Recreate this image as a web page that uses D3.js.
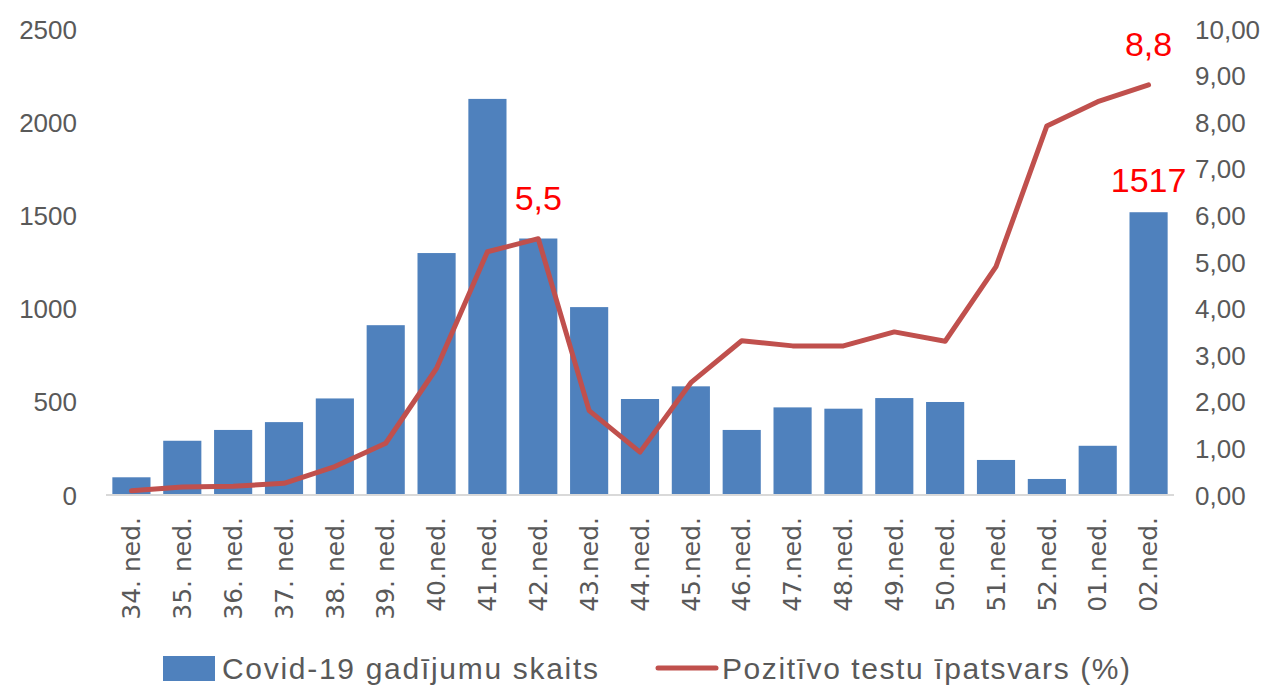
<!DOCTYPE html>
<html>
<head>
<meta charset="utf-8">
<script src="https://cdn.jsdelivr.net/npm/d3@7"></script>
<style>
  body { margin: 0; background: #fff; }
  svg text { font-family: "Liberation Sans", Arial, sans-serif; fill: #595959; }
  .xlab text { font-family: "DejaVu Sans", sans-serif; }
</style>
</head>
<body>
<div id="chart"></div>
<script>
// nedēļas
const weeks = ["34. ned.", "35. ned.", "36. ned.", "37. ned.", "38. ned.", "39. ned.",
  "40.ned.", "41.ned.", "42.ned.", "43.ned.", "44.ned.", "45.ned.", "46.ned.", "47.ned.",
  "48.ned.", "49.ned.", "50.ned.", "51.ned.", "52.ned.", "01.ned.", "02.ned."];
// gadījumu skaits (stabi)
const cases = [95, 291, 349, 391, 518, 911, 1298, 2125, 1376, 1008, 515, 583, 349, 470, 463, 520, 499, 188, 86, 264, 1517];
// pozitīvo testu īpatsvars (%)
const positive = [0.09, 0.17, 0.19, 0.25, 0.61, 1.11, 2.72, 5.22, 5.5, 1.81, 0.92, 2.41, 3.31, 3.2, 3.2, 3.5, 3.3, 4.9, 7.92, 8.44, 8.8];
const leftTicks = [0, 500, 1000, 1500, 2000, 2500];
const rightTicks = [0, 1, 2, 3, 4, 5, 6, 7, 8, 9, 10];
// sarkanās anotācijas
const lineNotes = [{ week: "42.ned.", text: "5,5" }, { week: "02.ned.", text: "8,8" }];
const barNotes = [{ week: "02.ned.", text: "1517" }];

const width = 1279, height = 689;
const svg = d3.select("#chart").append("svg")
  .attr("width", width).attr("height", height);

const x = d3.scaleBand().domain(weeks).range([106, 1174])
  .paddingInner(0.25).paddingOuter(0.125);
const y = d3.scaleLinear().domain([0, 2500]).range([495, 29]);
const y2 = d3.scaleLinear().domain([0, 10]).range([495, 29]);

// kreisā ass
const leftAxis = svg.append("g")
  .attr("transform", "translate(77,0)")
  .call(d3.axisLeft(y).tickValues(leftTicks).tickSize(0).tickPadding(0)
    .tickFormat(d3.format("d")));
leftAxis.select(".domain").remove();
leftAxis.selectAll("text").style("font-size", "26px").attr("dy", "0.35em");

// labā ass
const rightAxis = svg.append("g")
  .attr("transform", "translate(1195,0)")
  .call(d3.axisRight(y2).tickValues(rightTicks).tickSize(0).tickPadding(0)
    .tickFormat(d => d3.format(".2f")(d).replace(".", ",")));
rightAxis.select(".domain").remove();
rightAxis.selectAll("text").style("font-size", "26px").attr("dy", "0.35em");

// stabi
svg.selectAll("rect.bar")
  .data(cases)
  .enter()
  .append("rect")
  .attr("class", "bar")
  .attr("x", (d, i) => x(weeks[i]))
  .attr("width", x.bandwidth())
  .attr("y", d => y(d))
  .attr("height", d => y(0) - y(d))
  .style("fill", "#4F81BD");

// bāzes līnija
svg.append("line")
  .attr("x1", x.range()[0]).attr("x2", x.range()[1])
  .attr("y1", y(0)).attr("y2", y(0))
  .style("stroke", "#D9D9D9").style("stroke-width", 2);

// x ass
const xAxis = svg.append("g")
  .attr("class", "xlab")
  .attr("transform", `translate(0,${y(0)})`)
  .call(d3.axisBottom(x).tickSize(0).tickPadding(0));
xAxis.select(".domain").remove();
xAxis.selectAll("text")
  .style("font-size", "25px")
  .attr("text-anchor", "end")
  .attr("transform", "rotate(-90)")
  .attr("x", -22)
  .attr("y", 0)
  .attr("dy", "0.35em");

// līnija
const line = d3.line()
  .x((d, i) => x(weeks[i]) + x.bandwidth() / 2)
  .y(d => y2(d));
svg.append("path")
  .datum(positive)
  .attr("d", line)
  .style("fill", "none")
  .style("stroke", "#C0504D")
  .style("stroke-width", 5)
  .style("stroke-linejoin", "round")
  .style("stroke-linecap", "round");

// anotācijas
svg.selectAll("text.lineNote")
  .data(lineNotes)
  .enter()
  .append("text")
  .attr("class", "lineNote")
  .attr("x", d => x(d.week) + x.bandwidth() / 2)
  .attr("y", d => y2(positive[weeks.indexOf(d.week)]) - 29)
  .attr("text-anchor", "middle")
  .style("font-size", "34px")
  .style("fill", "#FF0000")
  .text(d => d.text);

svg.selectAll("text.barNote")
  .data(barNotes)
  .enter()
  .append("text")
  .attr("class", "barNote")
  .attr("x", d => x(d.week) + x.bandwidth() / 2)
  .attr("y", d => y(cases[weeks.indexOf(d.week)]) - 20)
  .attr("text-anchor", "middle")
  .style("font-size", "34px")
  .style("fill", "#FF0000")
  .text(d => d.text);

// leģenda
const legend = svg.append("g").attr("transform", "translate(0,668)");
legend.append("rect")
  .attr("x", 163).attr("y", -12).attr("width", 52).attr("height", 25)
  .style("fill", "#4F81BD");
legend.append("text")
  .attr("x", 222).attr("y", 0).attr("dy", "0.35em")
  .attr("textLength", 376)
  .style("font-size", "30px")
  .text("Covid-19 gadījumu skaits");
legend.append("line")
  .attr("x1", 658).attr("x2", 716).attr("y1", 0).attr("y2", 0)
  .style("stroke", "#C0504D").style("stroke-width", 5)
  .style("stroke-linecap", "round");
legend.append("text")
  .attr("x", 722).attr("y", 0).attr("dy", "0.35em")
  .attr("textLength", 408)
  .style("font-size", "30px")
  .text("Pozitīvo testu īpatsvars (%)");
</script>
</body>
</html>
